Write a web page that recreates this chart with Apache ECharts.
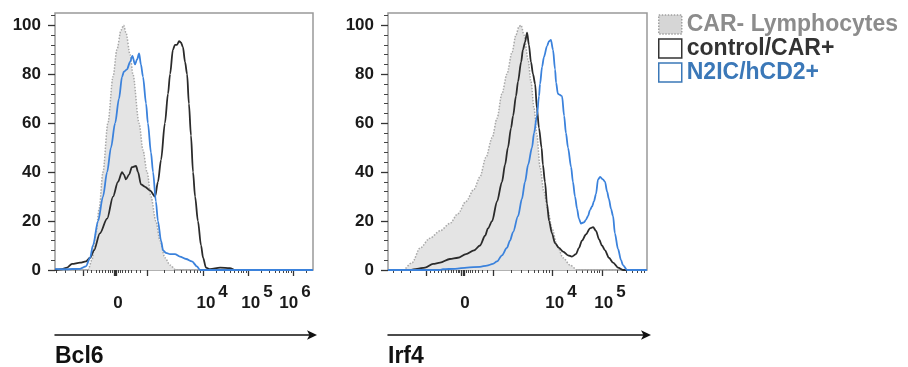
<!DOCTYPE html>
<html>
<head>
<meta charset="utf-8">
<script src="https://cdn.jsdelivr.net/npm/echarts@6/dist/echarts.min.js"></script>
<style>
  html, body { margin: 0; background: #fff; }
  #chart { width: 908px; height: 367px; }
</style>
</head>
<body>
<div id="chart"></div>
<script>
// x is the biexponential display scale, 0..100 across each plot; y is % of max
const bcl6CarNeg = [[0,0],[12.8,0],[14.3,4],[15.9,15],[17.1,25],[18.6,40],[20.5,60],[22.5,79],[24.0,90],[25.6,98],[26.6,100],[27.5,97],[29.1,88],[30.2,80],[32.6,60],[34.1,49],[35.7,40],[37.2,30],[39.1,20],[40.7,12],[42.6,5],[44.6,2],[46.9,0],[100,0]];
const bcl6Control = [[0,0],[2.7,0.3],[4.7,1],[6.6,2.5],[9.7,3],[12.0,3.5],[13.6,5],[15.1,8],[17.4,15],[20.2,21],[22.5,30],[24.4,36],[26.0,40],[26.7,39],[27.5,37],[28.7,39],[29.8,42],[31.4,42.5],[32.2,40],[33.3,35],[34.9,34],[36.8,32.5],[38.8,30],[39.9,36],[41.1,45],[42.6,60],[43.8,72],[44.6,80],[45.7,90],[46.5,92],[47.3,92],[48.1,93.5],[48.8,93],[49.6,91],[50.4,85],[51.2,80],[51.9,68],[52.7,55],[53.5,40],[54.3,30],[55.4,20],[56.6,10],[57.4,5],[58.5,1],[60.1,0.3],[64.0,1],[67.8,0.8],[69.8,0],[100,0]];
const bcl6N2ic = [[0,0.5],[3.9,0.3],[9.7,0.5],[12.0,1.5],[13.6,5],[14.7,10],[16.7,20],[18.6,30],[20.2,40],[21.7,50],[23.3,60],[24.8,70],[26.0,79],[26.7,81],[27.9,82],[29.1,85],[30.0,87.5],[31.0,84],[31.8,86],[32.6,88.5],[33.3,84],[34.1,79],[35.3,68],[36.0,60],[37.2,48],[38.0,40],[39.1,28],[39.9,20],[41.1,12],[41.9,8],[43.0,7],[44.6,6.5],[46.5,6.5],[48.4,5.5],[50.8,4.5],[53.1,3.5],[55.0,1.5],[56.2,0],[100,0]];

const irf4CarNeg = [[0,0],[5.8,0],[9.3,3],[12.4,9],[16.2,13],[20.1,16],[23.9,19],[27.0,23],[30.1,28],[33.2,33],[35.5,38],[37.8,46],[40.2,54],[42.1,62],[44.0,72],[45.9,80],[47.9,89],[49.4,96],[50.6,99.5],[51.4,100],[52.5,96],[54.1,86],[55.2,77],[56.4,66],[57.5,55],[58.7,42],[60.2,32],[61.8,24],[63.3,17],[65.3,10],[67.6,5],[70.3,2],[73.0,0],[100,0]];
const irf4Control = [[0,0],[8.5,0],[11.2,0.5],[14.3,1],[17.4,2.5],[20.1,3],[23.9,4.5],[27.0,5],[30.1,6.5],[33.2,8],[35.5,10],[37.5,14],[38.6,17],[40.2,20],[42.1,28],[44.0,36],[45.2,43],[46.3,50],[47.5,58],[48.3,63],[49.4,71],[50.2,77],[51.4,85],[52.1,90],[52.9,93],[53.7,97],[54.4,92],[55.2,85],[56.0,80],[56.8,76],[57.5,66],[58.3,58],[59.3,50],[59.8,43],[60.6,36],[61.4,27],[62.2,20],[63.3,15],[64.5,11],[66.0,9],[67.6,7.5],[69.5,6],[71.0,5.5],[72.6,6.5],[73.7,9],[74.9,12],[76.4,14.5],[78.0,17],[79.2,17.5],[80.3,16],[81.5,12.5],[82.6,10],[83.8,8],[85.3,5],[86.9,3],[88.8,1],[90.7,0],[100,0]];
const irf4N2ic = [[0,0],[20.1,0],[21.2,0.3],[25.9,0.5],[30.5,1],[35.5,1.3],[38.2,1.8],[40.5,2.5],[42.1,3.5],[44.0,6],[45.9,9],[47.1,12],[48.3,15.5],[50.2,22],[51.7,29],[52.9,36],[54.1,43],[55.6,50],[56.4,56],[57.5,63],[58.3,71],[58.7,76],[59.5,83],[60.2,87],[61.4,91.5],[62.2,93.5],[62.9,94],[63.7,90],[64.5,82],[64.9,76.5],[65.6,72],[66.4,71.5],[67.2,71],[68.0,63],[68.7,56],[69.5,50],[70.7,42],[71.4,36],[72.2,30],[73.0,25],[73.7,21],[74.5,19],[75.7,19.5],[76.4,20.5],[77.2,22],[78.0,24.5],[78.8,26],[79.5,28],[80.3,31],[81.1,37],[81.9,38],[83.0,37],[83.8,36],[84.6,32],[85.3,29],[86.1,25],[86.9,22],[87.6,15],[88.8,8.6],[90.0,4],[90.7,2],[92.3,0],[100,0]];

const seriesNames = ['CAR- Lymphocytes', 'control/CAR+', 'N2IC/hCD2+'];

const yMajorTicks = [0, 20, 40, 60, 80, 100];
const yMinorTicks = [4, 8, 12, 16, 24, 28, 32, 36, 44, 48, 52, 56, 64, 68, 72, 76, 84, 88, 92, 96, 104];

const bcl6MajorTicks = [10.9, 22.8, 23.3, 23.8, 35.7, 57.4, 74.8, 92.2];
const bcl6MinorTicks = [0.4, 3.9, 7.8, 12.5, 14.2, 15.8, 17.2, 18.5, 19.6, 20.6, 21.4, 22.1, 24.5, 25.2, 26.1, 27.1, 28.3, 29.7, 31.3, 33.2, 42.2, 46.1, 48.8, 50.9, 52.6, 54.0, 55.2, 56.3, 62.6, 65.7, 67.9, 69.6, 71.0, 72.1, 73.1, 74.0, 80.0, 83.1, 85.3, 87.0, 88.4, 89.5, 90.5, 91.4, 97.4];
const bcl6LabelPos = [24.4, 60.9, 78.3, 93.0];
const bcl6LabelBase = ['0', '10', '10', '10'];
const bcl6LabelExp = ['', '4', '5', '6'];

const irf4MajorTicks = [14.7, 28.4, 29.0, 29.6, 40.5, 63.3, 82.6];
const irf4MinorTicks = [1.9, 5.0, 8.5, 16.2, 17.8, 19.3, 20.7, 22.0, 23.2, 24.3, 25.3, 26.2, 27.0, 27.7, 30.3, 31.0, 31.8, 32.7, 33.7, 34.9, 36.3, 38.2, 47.4, 51.4, 54.2, 56.4, 58.2, 59.8, 61.1, 62.3, 69.1, 72.5, 74.9, 76.8, 78.3, 79.6, 80.7, 81.7, 88.4, 91.8, 94.2, 96.1, 97.6, 98.9];
const irf4LabelPos = [29.7, 66.8, 85.7];
const irf4LabelBase = ['0', '10', '10'];
const irf4LabelExp = ['', '4', '5'];

const FONT = 'Liberation Sans';
const INK = '#1a1a1a';

function mainX(gridIndex, ticks, pos, base, exp) {
  return {
    type: 'value', gridIndex: gridIndex, min: 0, max: 100, position: 'bottom',
    axisLine: { show: false }, splitLine: { show: false },
    axisTick: { show: true, customValues: ticks, length: 6, lineStyle: { color: '#333', width: 1.3 } },
    axisLabel: {
      customValues: pos, margin: 14,
      formatter: function (v) {
        const i = pos.indexOf(v);
        if (i < 0) return '';
        return exp[i] ? '{b|' + base[i] + '}{s|' + exp[i] + '}' : '{b|' + base[i] + '}';
      },
      rich: {
        b: { fontFamily: FONT, fontWeight: 'bold', fontSize: 17, color: INK, lineHeight: 28, verticalAlign: 'bottom' },
        s: { fontFamily: FONT, fontWeight: 'bold', fontSize: 17, color: INK, lineHeight: 14, verticalAlign: 'top', padding: [0, 0, 0, 3] }
      }
    }
  };
}
function minorX(gridIndex, ticks) {
  return {
    type: 'value', gridIndex: gridIndex, min: 0, max: 100, position: 'bottom',
    axisLine: { show: false }, splitLine: { show: false },
    axisTick: { show: true, customValues: ticks, length: 3, lineStyle: { color: '#444', width: 1 } },
    axisLabel: { show: false, customValues: ticks }
  };
}
function arrowX(gridIndex) {
  return {
    type: 'value', gridIndex: gridIndex, min: 0, max: 100, position: 'bottom', offset: 65,
    axisLine: { show: true, symbol: ['none', 'arrow'], symbolSize: [7, 10], symbolOffset: [0, 4], lineStyle: { color: '#111', width: 1.5 } },
    axisTick: { show: false }, axisLabel: { show: false }, splitLine: { show: false }
  };
}
function mainY(gridIndex) {
  return {
    type: 'value', gridIndex: gridIndex, min: 0, max: 105, position: 'left',
    axisLine: { show: false }, splitLine: { show: false },
    axisTick: { show: true, customValues: yMajorTicks, length: 7, lineStyle: { color: '#333', width: 1.3 } },
    axisLabel: { customValues: yMajorTicks, margin: 14, fontFamily: FONT, fontWeight: 'bold', fontSize: 17, color: INK }
  };
}
function minorY(gridIndex) {
  return {
    type: 'value', gridIndex: gridIndex, min: 0, max: 105, position: 'left',
    axisLine: { show: false }, splitLine: { show: false },
    axisTick: { show: true, customValues: yMinorTicks, length: 4, lineStyle: { color: '#444', width: 1 } },
    axisLabel: { show: false, customValues: yMinorTicks }
  };
}

function histo(name, data, xi, yi) {
  const s = {
    name: name, type: 'line', data: data, xAxisIndex: xi, yAxisIndex: yi,
    showSymbol: false, smooth: 0.3, smoothMonotone: 'x', silent: true
  };
  if (name === seriesNames[0]) {
    s.lineStyle = { color: '#a8a8a8', width: 1.5, type: 'dotted' };
    s.areaStyle = { color: '#e4e4e4', opacity: 1 };
    s.itemStyle = { color: '#d9d9d9' };
    s.z = 1;
  } else if (name === seriesNames[1]) {
    s.lineStyle = { color: '#2b2b2b', width: 1.8 };
    s.itemStyle = { color: '#2b2b2b' };
    s.z = 2;
  } else {
    s.lineStyle = { color: '#3b82dc', width: 1.8 };
    s.itemStyle = { color: '#3b82dc' };
    s.z = 3;
  }
  return s;
}

const chart = echarts.init(document.getElementById('chart'));
chart.setOption({
  animation: false,
  backgroundColor: '#fff',
  title: [
    { text: 'Bcl6', left: 55, top: 345, padding: 0, textStyle: { fontFamily: FONT, fontWeight: 'bold', fontSize: 23, color: '#111' } },
    { text: 'Irf4', left: 388, top: 345, padding: 0, textStyle: { fontFamily: FONT, fontWeight: 'bold', fontSize: 23, color: '#111' } }
  ],
  legend: {
    orient: 'vertical', left: 658, top: 13, padding: 0,
    itemWidth: 23, itemHeight: 19, itemGap: 1, icon: 'rect', selectedMode: false,
    textStyle: { fontFamily: FONT, fontWeight: 'bold', fontSize: 23, lineHeight: 19 },
    data: [
      { name: seriesNames[0], itemStyle: { color: '#d6d6d6', borderColor: '#a0a0a0', borderWidth: 1.5, borderType: 'dotted' }, textStyle: { color: '#8c8c8c' } },
      { name: seriesNames[1], itemStyle: { color: '#fff', borderColor: '#333', borderWidth: 1.5 }, textStyle: { color: '#333' } },
      { name: seriesNames[2], itemStyle: { color: '#fff', borderColor: '#3b78b8', borderWidth: 1.5 }, textStyle: { color: '#3b78b8' } }
    ]
  },
  grid: [
    { left: 55, top: 13, width: 258, height: 257, show: true, borderColor: '#999', borderWidth: 1.5, backgroundColor: 'transparent' },
    { left: 388, top: 13, width: 259, height: 257, show: true, borderColor: '#999', borderWidth: 1.5, backgroundColor: 'transparent' }
  ],
  xAxis: [
    mainX(0, bcl6MajorTicks, bcl6LabelPos, bcl6LabelBase, bcl6LabelExp),
    minorX(0, bcl6MinorTicks),
    arrowX(0),
    mainX(1, irf4MajorTicks, irf4LabelPos, irf4LabelBase, irf4LabelExp),
    minorX(1, irf4MinorTicks),
    arrowX(1)
  ],
  yAxis: [mainY(0), minorY(0), mainY(1), minorY(1)],
  series: [
    histo(seriesNames[0], bcl6CarNeg, 0, 0),
    histo(seriesNames[1], bcl6Control, 0, 0),
    histo(seriesNames[2], bcl6N2ic, 0, 0),
    histo(seriesNames[0], irf4CarNeg, 3, 2),
    histo(seriesNames[1], irf4Control, 3, 2),
    histo(seriesNames[2], irf4N2ic, 3, 2)
  ]
});
</script>
</body>
</html>
